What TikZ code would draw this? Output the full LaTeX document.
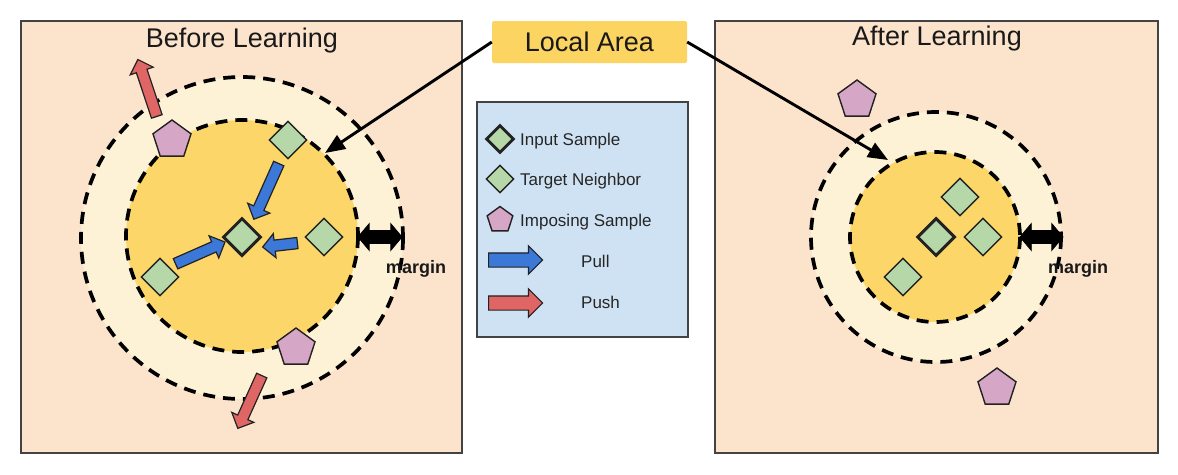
\documentclass[tikz,border=0pt]{standalone}
\usepackage{fontspec}
\setmainfont{Liberation Sans}
\usetikzlibrary{shapes.geometric,shapes.arrows,arrows.meta}

\definecolor{panelbg}{HTML}{FCE4CC}
\definecolor{ringbg}{HTML}{FEF2D6}
\definecolor{corebg}{HTML}{FDD66A}
\definecolor{labelbg}{HTML}{FCD462}
\definecolor{legendbg}{HTML}{CFE2F3}
\definecolor{diamondfill}{HTML}{B6D7A8}
\definecolor{pentfill}{HTML}{D5A6C6}
\definecolor{pullblue}{HTML}{3C78D8}
\definecolor{pushred}{HTML}{E06666}
\definecolor{edgecol}{HTML}{222222}

\tikzset{
  panel/.style={draw=edgecol!85, line width=1.4pt, fill=panelbg},
  dashring/.style={draw=black, line width=3.7pt, dash pattern=on 12pt off 8pt},
  neighbor/.style={diamond, draw=edgecol, line width=1.4pt, fill=diamondfill, minimum size=38pt, inner sep=0pt},
  inputs/.style={neighbor, line width=3pt},
  imposter/.style={regular polygon, regular polygon sides=5, draw=edgecol, line width=1.4pt, fill=pentfill, minimum size=40pt, inner sep=0pt},
  blockarrow/.style={single arrow, draw=edgecol, line width=1.2pt, inner xsep=0pt, inner ysep=5pt, single arrow head extend=6.5pt, anchor=tail},
  pullarrow/.style={blockarrow, fill=pullblue},
  pusharrow/.style={blockarrow, fill=pushred},
  marginarrow/.style={double arrow, fill=black, draw=black, line width=0.8pt, inner xsep=0pt, inner ysep=6pt, double arrow head extend=7pt, double arrow tip angle=100, minimum height=44pt},
  pointer/.style={line width=2.9pt, -{Triangle[length=20pt,width=16pt]}},
  titletext/.style={font=\fontsize{27}{31}\selectfont, text=black!90, anchor=base},
  legendtext/.style={font=\fontsize{17}{20}\selectfont, text=black!85, anchor=base west, inner sep=0pt},
  margintext/.style={font=\bfseries\fontsize{18}{20}\selectfont, text=black!90, anchor=base, inner sep=0pt},
}

\begin{document}
\begin{tikzpicture}[x=1pt, y=-1pt]
\useasboundingbox (0,0) rectangle (1178,474);
\fill[white] (0,0) rectangle (1178,474);

% panels
\draw[panel] (21,21) rectangle (462,453);
\draw[panel] (715,21) rectangle (1158,453);

% left rings
\fill[ringbg] (242,238) circle (161);
\draw[dashring] (242,238) circle (161);
\fill[corebg] (242,236) circle (116);
\draw[dashring] (242,236) circle (116);

% right rings
\fill[ringbg] (936,237) circle (125);
\draw[dashring] (936,237) circle (125);
\fill[corebg] (935,237) circle (85);
\draw[dashring] (935,237) circle (85);

% titles
\node[titletext] (before) at (242,47) {Before Learning};
\node[titletext] (after) at (937,45) {After Learning};

% local area label
\node[fill=labelbg, minimum width=195pt, minimum height=42pt, inner sep=0pt, rounded corners=1.5pt, font=\fontsize{27}{31}\selectfont, text=black!90] (la) at (589.5,42) {Local Area};

% legend
\node[draw=edgecol!85, line width=1.6pt, fill=legendbg, minimum width=211pt, minimum height=235pt, inner sep=0pt] (legend) at (582.5,219.5) {};
\node[inputs, minimum size=28pt, line width=2.8pt] (lgin) at (500,139) {};
\node[neighbor, minimum size=28pt] (lgtn) at (500,179) {};
\node[imposter, minimum size=27pt] (lgim) at (500,220) {};
\node[pullarrow, inner ysep=6.5pt, single arrow head extend=7pt, minimum height=54pt] (lgpull) at (488,260) {};
\node[pusharrow, inner ysep=6.5pt, single arrow head extend=7pt, minimum height=54pt] (lgpush) at (488,303) {};
\node[legendtext] (tin) at (520,145) {Input Sample};
\node[legendtext] (ttn) at (520,185) {Target Neighbor};
\node[legendtext] (tim) at (520,226) {Imposing Sample};
\node[legendtext] (tpull) at (581,267) {Pull};
\node[legendtext] (tpush) at (581,308) {Push};

% left arrows
\node[pullarrow, minimum height=61pt, rotate=245.9] (pa1) at (279,163) {};
\node[pullarrow, minimum height=54pt, rotate=23.75] (pa2) at (175,264) {};
\node[pullarrow, minimum height=35pt, rotate=186.5] (pa3) at (298,243) {};
\node[pusharrow, minimum height=60pt, rotate=108.4] (ra1) at (157,117) {};
\node[pusharrow, minimum height=58pt, rotate=245.6] (ra2) at (262,375) {};

% left shapes
\node[neighbor] (tn1) at (288,140) {};
\node[neighbor] (tn2) at (324,237) {};
\node[neighbor] (tn3) at (160,277) {};
\node[inputs] (in1) at (242,237) {};
\node[imposter] (im1) at (172,140) {};
\node[imposter] (im2) at (296,348) {};

% right shapes
\node[neighbor] (tn4) at (960,197) {};
\node[neighbor] (tn5) at (983,237) {};
\node[neighbor] (tn6) at (903,277) {};
\node[inputs] (in2) at (936,237) {};
\node[imposter] (im3) at (857,100) {};
\node[imposter] (im4) at (997,388) {};

% margins
\node[marginarrow] (m1) at (380,237) {};
\node[margintext] (mt1) at (416,273) {margin};
\node[marginarrow, minimum height=43pt] (m2) at (1041.5,237) {};
\node[margintext] (mt2) at (1078,273) {margin};

% pointers
\coordinate (lhit) at (325,153);
\coordinate (rhit) at (888,160);
\draw[pointer] (la.west) -- (lhit);
\draw[pointer] (la.east) -- (rhit);
\end{tikzpicture}
\end{document}
